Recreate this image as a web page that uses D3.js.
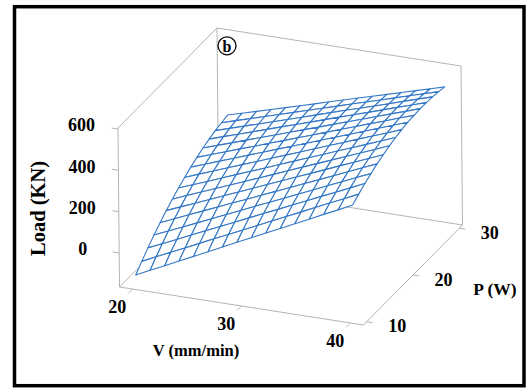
<!DOCTYPE html>
<html><head><meta charset="utf-8">
<script src="https://cdn.jsdelivr.net/npm/d3@7"></script>
<style>html,body{margin:0;padding:0;background:#fff}svg{display:block}</style>
</head><body><svg id="chart" width="529" height="389"></svg>
<script>
// Grid of the response surface: speed V (mm/min) by power P (W)
const vGrid = [20, 21.33, 22.67, 24, 25.33, 26.67, 28, 29.33, 30.67, 32, 33.33, 34.67, 36, 37.33, 38.67, 40];
const pGrid = [10, 11.33, 12.67, 14, 15.33, 16.67, 18, 19.33, 20.67, 22, 23.33, 24.67, 26, 27.33, 28.67, 30];
// load[j][i] in KN at P = pGrid[j], V = vGrid[i]
const load = [
  [-113, -79, -46, -12, 21, 55, 88, 122, 155, 189, 222, 256, 289, 323, 356, 390],
  [-77, -44, -11, 21, 54, 87, 119, 152, 184, 217, 250, 282, 315, 348, 380, 413],
  [-42, -11, 21, 53, 85, 116, 148, 180, 212, 243, 275, 307, 339, 370, 402, 434],
  [-10, 21, 51, 82, 113, 144, 175, 206, 237, 267, 298, 329, 360, 391, 422, 452],
  [20, 50, 80, 110, 140, 170, 199, 229, 259, 289, 319, 349, 379, 409, 439, 469],
  [48, 77, 106, 135, 164, 193, 222, 251, 280, 309, 338, 367, 396, 425, 454, 483],
  [73, 102, 130, 158, 186, 214, 242, 270, 299, 327, 355, 383, 411, 439, 467, 496],
  [97, 124, 151, 179, 206, 233, 260, 288, 315, 342, 369, 397, 424, 451, 478, 506],
  [118, 145, 171, 198, 224, 250, 277, 303, 329, 356, 382, 408, 435, 461, 487, 514],
  [138, 163, 189, 214, 240, 265, 291, 316, 341, 367, 392, 418, 443, 469, 494, 520],
  [155, 180, 204, 229, 253, 278, 302, 327, 351, 376, 401, 425, 450, 474, 499, 523],
  [170, 194, 217, 241, 265, 288, 312, 336, 359, 383, 407, 430, 454, 478, 501, 525],
  [183, 206, 229, 251, 274, 297, 320, 342, 365, 388, 411, 433, 456, 479, 502, 524],
  [194, 216, 238, 259, 281, 303, 325, 347, 369, 391, 412, 434, 456, 478, 500, 522],
  [202, 223, 244, 265, 286, 307, 328, 349, 370, 391, 412, 433, 454, 475, 496, 517],
  [209, 229, 249, 269, 289, 309, 329, 350, 370, 390, 410, 430, 450, 470, 490, 510]
];
const vTicks = [20, 30, 40];
const pTicks = [10, 20, 30];
const loadTicks = [0, 200, 400, 600];

const svg = d3.select("#chart");
const FONT = "'Liberation Serif','Times New Roman',serif";

// Axis boxes of the 3-D plot
const vScale = d3.scaleLinear().domain([18.8, 41.2]).range([0, 1]);
const pScale = d3.scaleLinear().domain([9.3, 30.7]).range([0, 1]);
const zScale = d3.scaleLinear().domain([-165, 605]).range([0, 1]);
const [V0, V1] = vScale.domain(), [P0, P1] = pScale.domain(), [Z0, Z1] = zScale.domain();

// Oblique view: screen offsets of the V, P and Load directions of the box
const origin = [119.5, 287], dirV = [244, 38], dirP = [99, -100], dirZ = [-1.5, -159];
function proj(V, P, Z) {
  const u = vScale(V), v = pScale(P), w = zScale(Z);
  return [origin[0] + u * dirV[0] + v * dirP[0] + w * dirZ[0],
          origin[1] + u * dirV[1] + v * dirP[1] + w * dirZ[1]];
}
function depth(V, P, Z) { return -87.8 * vScale(V) + 234 * pScale(P) - 68.5 * zScale(Z); }
const line = d3.line();

// outer frame
svg.append("rect").attr("x", 14.5).attr("y", 6.7).attr("width", 509.5).attr("height", 379)
  .attr("fill", "none").attr("stroke", "#000").attr("stroke-width", 3.5);

// wireframe box (back walls and floor)
const boxEdges = [
  [[V0, P0, Z0], [V1, P0, Z0]], [[V1, P0, Z0], [V1, P1, Z0]],
  [[V0, P0, Z0], [V0, P1, Z0]], [[V0, P1, Z0], [V1, P1, Z0]],
  [[V0, P0, Z0], [V0, P0, Z1]], [[V0, P1, Z0], [V0, P1, Z1]], [[V1, P1, Z0], [V1, P1, Z1]],
  [[V0, P0, Z1], [V0, P1, Z1]], [[V0, P1, Z1], [V1, P1, Z1]]
];
const gBox = svg.append("g").attr("stroke", "#b4b4b4").attr("stroke-width", 1).attr("fill", "none");
boxEdges.forEach(e => gBox.append("path").attr("d", line(e.map(p => proj(...p)))));

// ticks
const tickLen = 6;
const unit = d => { const l = Math.hypot(d[0], d[1]); return [d[0] / l, d[1] / l]; };
const uV = unit(dirV), uP = unit(dirP);
vTicks.forEach(t => {
  const a = proj(t, P0, Z0);
  gBox.append("path").attr("d", line([a, [a[0] - uP[0] * tickLen, a[1] - uP[1] * tickLen]]));
  svg.append("text").attr("x", a[0] - 15.3).attr("y", a[1] + 23.6).attr("text-anchor", "middle")
    .attr("font-family", FONT).attr("font-weight", "bold").attr("font-size", 18).text(t);
});
pTicks.forEach(t => {
  const a = proj(V1, t, Z0);
  gBox.append("path").attr("d", line([a, [a[0] + uV[0] * tickLen, a[1] + uV[1] * tickLen]]));
  svg.append("text").attr("x", a[0] + 30.5).attr("y", a[1] + 10.6).attr("text-anchor", "middle")
    .attr("font-family", FONT).attr("font-weight", "bold").attr("font-size", 18).text(t);
});
loadTicks.forEach(t => {
  const a = proj(V0, P0, t);
  gBox.append("path").attr("d", line([a, [a[0] - uV[0] * 6.5, a[1] - uV[1] * 6.5]]));
  svg.append("text").attr("x", a[0] - 36.5).attr("y", a[1] + 2.4).attr("text-anchor", "middle")
    .attr("font-family", FONT).attr("font-weight", "bold").attr("font-size", 18).text(t);
});

// surface mesh, painted back to front
const cells = [];
for (let j = 0; j < pGrid.length - 1; j++) {
  for (let i = 0; i < vGrid.length - 1; i++) {
    const c = [[i, j], [i + 1, j], [i + 1, j + 1], [i, j + 1]].map(([a, b]) => [vGrid[a], pGrid[b], load[b][a]]);
    cells.push({ pts: c, d: d3.mean(c, p => depth(...p)) });
  }
}
cells.sort((a, b) => b.d - a.d);
const gSurf = svg.append("g").attr("fill", "#fff").attr("stroke", "#3377c6")
  .attr("stroke-width", 1.1).attr("stroke-linejoin", "round");
cells.forEach(c => gSurf.append("path").attr("d", line(c.pts.map(p => proj(...p))) + "Z"));

// axis titles
svg.append("text").attr("transform", "translate(44.5,208.5) rotate(-90)").attr("text-anchor", "middle")
  .attr("font-family", FONT).attr("font-weight", "bold").attr("font-size", 20.5).text("Load (KN)");
svg.append("text").attr("x", 196).attr("y", 356).attr("text-anchor", "middle")
  .attr("font-family", FONT).attr("font-weight", "bold").attr("font-size", 16.5).text("V (mm/min)");
svg.append("text").attr("x", 495).attr("y", 295).attr("text-anchor", "middle")
  .attr("font-family", FONT).attr("font-weight", "bold").attr("font-size", 17.5).text("P (W)");

// panel marker
svg.append("circle").attr("cx", 227).attr("cy", 45.8).attr("r", 9)
  .attr("fill", "none").attr("stroke", "#000").attr("stroke-width", 1.3);
svg.append("text").attr("x", 227).attr("y", 51.5).attr("text-anchor", "middle")
  .attr("font-family", FONT).attr("font-weight", "bold").attr("font-size", 16).text("b");
</script></body></html>
